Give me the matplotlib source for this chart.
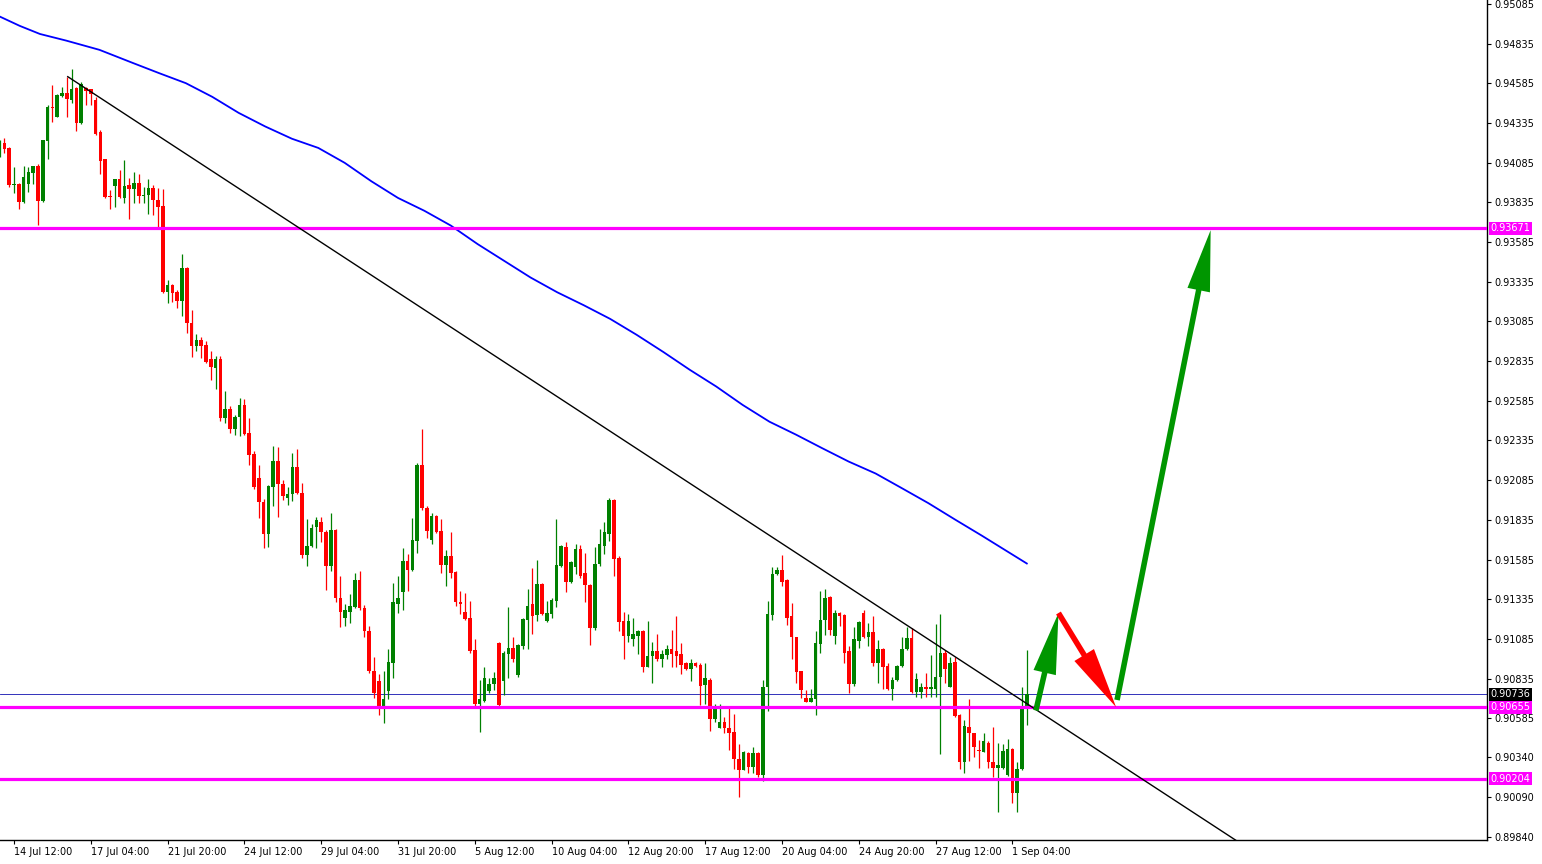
import numpy as np
import pandas as pd
import matplotlib
matplotlib.use("Agg")
import matplotlib.pyplot as plt
import matplotlib.transforms as mtransforms

# USDCHF H4, 14 Jul 2020 00:00 .. 1 Sep 2020 16:00 (215 bars)
opens = [0.94140, 0.94211, 0.94180, 0.93945, 0.93951, 0.93835, 0.93951, 0.94022, 0.94064, 0.93846,
         0.94224, 0.94436, 0.94375, 0.94507, 0.94524, 0.94482, 0.94556, 0.94337, 0.94556, 0.94547,
         0.94480, 0.94280, 0.94106, 0.93874, 0.93938, 0.93982, 0.93865, 0.93943, 0.93917, 0.93957,
         0.93876, 0.93883, 0.93928, 0.93850, 0.93814, 0.93272, 0.93315, 0.93272, 0.93216, 0.93422,
         0.93073, 0.92930, 0.92968, 0.92937, 0.92848, 0.92794, 0.92848, 0.92477, 0.92533, 0.92407,
         0.92483, 0.92559, 0.92383, 0.92252, 0.92099, 0.91949, 0.91748, 0.92044, 0.92206, 0.92063,
         0.91975, 0.91998, 0.92168, 0.92006, 0.91615, 0.91672, 0.91788, 0.91821, 0.91760, 0.91546,
         0.91771, 0.91345, 0.91217, 0.91254, 0.91286, 0.91456, 0.91280, 0.91137, 0.90885, 0.90822,
         0.90645, 0.90759, 0.90935, 0.91307, 0.91382, 0.91578, 0.91521, 0.91704, 0.92182, 0.91911,
         0.91710, 0.91859, 0.91765, 0.91552, 0.91609, 0.91508, 0.91319, 0.91254, 0.91217, 0.91017,
         0.90677, 0.90696, 0.90759, 0.90803, 0.91060, 0.90822, 0.90990, 0.91028, 0.90858, 0.91042,
         0.91204, 0.91305, 0.91236, 0.91431, 0.91198, 0.91242, 0.91324, 0.91544, 0.91664, 0.91443,
         0.91538, 0.91651, 0.91500, 0.91425, 0.91154, 0.91557, 0.91670, 0.91746, 0.91960, 0.91595,
         0.91198, 0.91103, 0.91084, 0.91103, 0.91135, 0.90908, 0.90977, 0.91009, 0.90958, 0.90984,
         0.91021, 0.91010, 0.90990, 0.90933, 0.90897, 0.90933, 0.90922, 0.90796, 0.90826, 0.90578,
         0.90522, 0.90563, 0.90522, 0.90498, 0.90330, 0.90261, 0.90368, 0.90280, 0.90368, 0.90229,
         0.90784, 0.91236, 0.91494, 0.91519, 0.91456, 0.91229, 0.91097, 0.90883, 0.90715, 0.90687,
         0.90708, 0.91053, 0.91204, 0.91349, 0.91103, 0.91250, 0.91236, 0.91011, 0.90799, 0.91070,
         0.91250, 0.91099, 0.91130, 0.90935, 0.91023, 0.90914, 0.90767, 0.90826, 0.90914, 0.91019,
         0.91089, 0.90752, 0.90752, 0.90784, 0.90767, 0.90767, 0.90847, 0.90998, 0.90784, 0.90941,
         0.90605, 0.90311, 0.90532, 0.90490, 0.90385, 0.90374, 0.90431, 0.90308, 0.90274, 0.90270,
         0.90227, 0.90391, 0.90112, 0.90265, 0.90648]
highs = [0.94230, 0.94239, 0.94185, 0.94060, 0.93955, 0.94064, 0.94060, 0.94065, 0.94077, 0.94230,
         0.94449, 0.94575, 0.94515, 0.94564, 0.94627, 0.94673, 0.94560, 0.94595, 0.94564, 0.94550,
         0.94500, 0.94290, 0.94110, 0.93913, 0.93985, 0.94039, 0.94104, 0.93987, 0.94028, 0.94012,
         0.93934, 0.93982, 0.93943, 0.93926, 0.93919, 0.93346, 0.93320, 0.93280, 0.93510, 0.93430,
         0.93157, 0.93006, 0.92987, 0.92962, 0.92899, 0.92867, 0.92869, 0.92647, 0.92552, 0.92496,
         0.92603, 0.92596, 0.92477, 0.92271, 0.92181, 0.91965, 0.92055, 0.92300, 0.92294, 0.92086,
         0.92042, 0.92256, 0.92281, 0.92067, 0.91842, 0.91809, 0.91855, 0.91855, 0.91770, 0.91878,
         0.91780, 0.91481, 0.91307, 0.91368, 0.91500, 0.91513, 0.91301, 0.91166, 0.90973, 0.90866,
         0.90885, 0.91023, 0.91439, 0.91483, 0.91660, 0.91622, 0.91849, 0.92195, 0.92407, 0.91925,
         0.91878, 0.91865, 0.91840, 0.91647, 0.91758, 0.91515, 0.91387, 0.91374, 0.91324, 0.91086,
         0.90828, 0.90910, 0.90841, 0.90878, 0.91065, 0.91011, 0.91286, 0.91097, 0.91050, 0.91215,
         0.91399, 0.91532, 0.91582, 0.91440, 0.91324, 0.91343, 0.91840, 0.91675, 0.91695, 0.91575,
         0.91683, 0.91677, 0.91626, 0.91430, 0.91664, 0.91777, 0.91821, 0.91973, 0.91966, 0.91607,
         0.91254, 0.91242, 0.91217, 0.91141, 0.91141, 0.91198, 0.91065, 0.91116, 0.91015, 0.91047,
         0.91141, 0.91229, 0.91057, 0.90940, 0.90958, 0.90940, 0.90933, 0.90933, 0.90839, 0.90675,
         0.90675, 0.90591, 0.90648, 0.90612, 0.90423, 0.90381, 0.90374, 0.90406, 0.90375, 0.90826,
         0.91324, 0.91540, 0.91540, 0.91614, 0.91460, 0.91313, 0.91100, 0.90885, 0.90763, 0.90769,
         0.91135, 0.91387, 0.91399, 0.91355, 0.91267, 0.91255, 0.91240, 0.91040, 0.91158, 0.91195,
         0.91267, 0.91183, 0.91231, 0.91078, 0.91030, 0.90935, 0.90843, 0.90920, 0.91099, 0.91162,
         0.91155, 0.90872, 0.90809, 0.90870, 0.90984, 0.91179, 0.91242, 0.91015, 0.90969, 0.90973,
         0.90610, 0.90574, 0.90706, 0.90495, 0.90448, 0.90490, 0.90440, 0.90532, 0.90431, 0.90423,
         0.90454, 0.90395, 0.90311, 0.90780, 0.91015]
lows = [0.94120, 0.94144, 0.93930, 0.93892, 0.93793, 0.93829, 0.93902, 0.93951, 0.93693, 0.93840,
        0.94106, 0.94343, 0.94370, 0.94500, 0.94375, 0.94463, 0.94287, 0.94330, 0.94449, 0.94449,
        0.94260, 0.94014, 0.93865, 0.93793, 0.93808, 0.93860, 0.93833, 0.93730, 0.93833, 0.93833,
        0.93833, 0.93764, 0.93756, 0.93667, 0.93267, 0.93203, 0.93209, 0.93172, 0.93119, 0.93014,
        0.92863, 0.92901, 0.92857, 0.92821, 0.92716, 0.92659, 0.92458, 0.92447, 0.92384, 0.92370,
        0.92363, 0.92370, 0.92182, 0.92031, 0.91849, 0.91660, 0.91666, 0.91924, 0.91855, 0.91962,
        0.91930, 0.91956, 0.92000, 0.91597, 0.91546, 0.91665, 0.91660, 0.91697, 0.91395, 0.91515,
        0.91319, 0.91162, 0.91169, 0.91188, 0.91280, 0.91267, 0.91099, 0.90872, 0.90715, 0.90607,
        0.90557, 0.90708, 0.90841, 0.91250, 0.91269, 0.91389, 0.91515, 0.91628, 0.91899, 0.91722,
        0.91685, 0.91750, 0.91502, 0.91420, 0.91470, 0.91294, 0.91244, 0.91206, 0.90998, 0.90664,
        0.90500, 0.90690, 0.90746, 0.90765, 0.90665, 0.90732, 0.90841, 0.90939, 0.90845, 0.91021,
        0.91021, 0.91116, 0.91198, 0.91235, 0.91192, 0.91217, 0.91286, 0.91540, 0.91380, 0.91440,
        0.91494, 0.91469, 0.91317, 0.91047, 0.91141, 0.91544, 0.91620, 0.91702, 0.91481, 0.91135,
        0.90958, 0.91065, 0.91040, 0.90990, 0.90876, 0.90908, 0.90807, 0.90946, 0.90908, 0.90958,
        0.90910, 0.90910, 0.90866, 0.90890, 0.90822, 0.90910, 0.90668, 0.90675, 0.90507, 0.90563,
        0.90522, 0.90490, 0.90385, 0.90267, 0.90091, 0.90261, 0.90242, 0.90242, 0.90217, 0.90192,
        0.90633, 0.91204, 0.91488, 0.91418, 0.91173, 0.90958, 0.90805, 0.90711, 0.90687, 0.90687,
        0.90607, 0.90996, 0.91110, 0.91108, 0.91053, 0.91168, 0.90935, 0.90746, 0.90790, 0.91030,
        0.91090, 0.91042, 0.90914, 0.90809, 0.90771, 0.90760, 0.90700, 0.90820, 0.90910, 0.91015,
        0.90745, 0.90721, 0.90715, 0.90721, 0.90721, 0.90721, 0.90358, 0.90809, 0.90780, 0.90590,
        0.90267, 0.90238, 0.90316, 0.90343, 0.90270, 0.90370, 0.90274, 0.90217, 0.89993, 0.90265,
        0.90220, 0.90053, 0.89993, 0.90260, 0.90543]
closes = [0.94211, 0.94169, 0.93943, 0.93951, 0.93839, 0.93995, 0.94026, 0.94062, 0.93846, 0.94228,
          0.94436, 0.94432, 0.94512, 0.94524, 0.94486, 0.94547, 0.94337, 0.94579, 0.94539, 0.94516,
          0.94266, 0.94098, 0.93871, 0.93870, 0.93982, 0.93867, 0.93940, 0.93917, 0.93957, 0.93875,
          0.93880, 0.93926, 0.93848, 0.93808, 0.93272, 0.93315, 0.93266, 0.93216, 0.93422, 0.93073,
          0.92930, 0.92968, 0.92930, 0.92828, 0.92800, 0.92848, 0.92477, 0.92533, 0.92407, 0.92483,
          0.92559, 0.92376, 0.92245, 0.92044, 0.91949, 0.91748, 0.92048, 0.92206, 0.92063, 0.91987,
          0.91998, 0.92168, 0.92006, 0.91615, 0.91672, 0.91784, 0.91836, 0.91760, 0.91546, 0.91771,
          0.91345, 0.91254, 0.91267, 0.91292, 0.91456, 0.91280, 0.91137, 0.90885, 0.90746, 0.90645,
          0.90708, 0.90941, 0.91319, 0.91345, 0.91578, 0.91521, 0.91710, 0.92182, 0.91911, 0.91765,
          0.91859, 0.91760, 0.91552, 0.91609, 0.91502, 0.91319, 0.91307, 0.91212, 0.91011, 0.90677,
          0.90708, 0.90841, 0.90803, 0.90841, 0.90670, 0.90996, 0.91028, 0.90958, 0.91047, 0.91210,
          0.91292, 0.91229, 0.91431, 0.91242, 0.91248, 0.91330, 0.91551, 0.91670, 0.91443, 0.91569,
          0.91651, 0.91481, 0.91425, 0.91154, 0.91557, 0.91683, 0.91758, 0.91960, 0.91588, 0.91192,
          0.91103, 0.91198, 0.91116, 0.91135, 0.90908, 0.90977, 0.91009, 0.90958, 0.90990, 0.91021,
          0.90992, 0.90980, 0.90922, 0.90897, 0.90933, 0.90916, 0.90790, 0.90839, 0.90578, 0.90641,
          0.90563, 0.90522, 0.90494, 0.90330, 0.90261, 0.90374, 0.90280, 0.90368, 0.90229, 0.90784,
          0.91242, 0.91494, 0.91519, 0.91443, 0.91217, 0.91097, 0.90876, 0.90763, 0.90687, 0.90715,
          0.91059, 0.91204, 0.91343, 0.91141, 0.91248, 0.91229, 0.90998, 0.90799, 0.91082, 0.91193,
          0.91099, 0.91130, 0.90935, 0.91023, 0.90910, 0.90767, 0.90826, 0.90914, 0.91019, 0.91089,
          0.90752, 0.90830, 0.90784, 0.90767, 0.90784, 0.90847, 0.90998, 0.90897, 0.90935, 0.90599,
          0.90311, 0.90538, 0.90490, 0.90406, 0.90378, 0.90442, 0.90308, 0.90274, 0.90291, 0.90379,
          0.90391, 0.90112, 0.90265, 0.90648, 0.90736]

# moving average (blue line)
ma_idx = [0.08, 4.2, 8.4, 13.9, 20.8, 27.7, 33.25, 38.8, 44.3, 49.8, 55.35, 60.9, 66.4,
          71.9, 77.45, 83.0, 88.5, 94.0, 99.6, 105.1, 110.6, 116.15, 121.7, 127.2,
          132.7, 138.3, 143.8, 149.3, 154.8, 160.4, 165.9, 171.4, 176.9, 182.5,
          188.0, 193.5, 199.1, 204.6, 210.1, 214.0]
ma_val = [0.95005, 0.94947, 0.94896, 0.94854, 0.94796, 0.94714, 0.94649, 0.94586,
          0.94500, 0.94399, 0.94313, 0.94236, 0.94178, 0.94084, 0.93968, 0.93863,
          0.93782, 0.93689, 0.93572, 0.93467, 0.93362, 0.93269, 0.93187, 0.93101,
          0.93001, 0.92892, 0.92780, 0.92675, 0.92559, 0.92453, 0.92372, 0.92286,
          0.92202, 0.92127, 0.92034, 0.91940, 0.91836, 0.91736, 0.91633, 0.91560]

levels = [0.93671, 0.90655, 0.90204]
bid = 0.90736
trend = [(14.2, 0.94627), (265.0, 0.89669)]
arrows = [((215.9, 0.90634), (220.6, 0.91248), '#009600'),
          ((220.6, 0.91248), (232.6, 0.90655), '#ff0000'),
          ((232.8, 0.90700), (252.3, 0.93660), '#009600')]

yticks = [0.95085, 0.94835, 0.94585, 0.94335, 0.94085, 0.93835, 0.93585, 0.93335,
          0.93085, 0.92835, 0.92585, 0.92335, 0.92085, 0.91835, 0.91585, 0.91335,
          0.91085, 0.90835, 0.90585, 0.90340, 0.90090, 0.89840]

days = pd.bdate_range('2020-07-14', '2020-09-01')
times = [d + pd.Timedelta(hours=h) for d in days for h in range(0, 24, 4)][:len(opens)]
xtick_idx = list(range(3, len(times), 16))
xtick_lab = [f"{times[i].day} {times[i].strftime('%b %H:%M')}" for i in xtick_idx]

o = np.array(opens); h = np.array(highs); l = np.array(lows); c = np.array(closes)
x = np.arange(len(o))
up = c >= o
col = np.where(up, '#008000', '#ff0000')

fig = plt.figure(figsize=(15.42, 8.64), dpi=100)
ax = fig.add_axes([0, 24/864, 1487/1542, 840/864])

ax.vlines(x, l, h, colors=col, linewidth=0.9, zorder=2)
ax.bar(x, np.maximum(np.abs(c - o), 0.00002), bottom=np.minimum(o, c), width=0.74,
       color=col, linewidth=0, zorder=3)

ax.plot(ma_idx, ma_val, color='#0000ff', lw=1.3, zorder=4, solid_joinstyle='round')
ax.axhline(bid, color='#1010b0', lw=0.6, zorder=1)
for lv in levels:
    ax.axhline(lv, color='#ff00ff', lw=2.3, zorder=5)
ax.plot([trend[0][0], trend[1][0]], [trend[0][1], trend[1][1]], color='black', lw=1.0, zorder=6)

for tail, tip, colr in arrows:
    ax.annotate('', xy=tip, xytext=tail, zorder=7,
                arrowprops=dict(arrowstyle='simple,head_length=44,head_width=16.5,tail_width=4.0',
                                mutation_scale=1, color=colr, lw=0, shrinkA=0, shrinkB=0))

ax.set_xlim(0.083, 309.875)
ax.set_ylim(0.89818, 0.95110)

ax.yaxis.tick_right()
ax.set_yticks(yticks)
ax.set_yticklabels([f"{v:.5f}" for v in yticks])
ax.set_xticks(xtick_idx)
ax.set_xticklabels(xtick_lab, ha='left')
ax.tick_params(axis='y', length=3, width=0.8, pad=2, labelsize=7)
ax.tick_params(axis='x', length=3, width=0.8, pad=2, labelsize=7)

for s in ['left', 'top']:
    ax.spines[s].set_visible(False)
for s in ['right', 'bottom']:
    ax.spines[s].set_linewidth(1.0)

tr = mtransforms.blended_transform_factory(ax.transAxes, ax.transData)
for lv in levels:
    ax.text(1.0025, lv, f"{lv:.5f}", transform=tr, va='center', ha='left', fontsize=7,
            color='white', zorder=10,
            bbox=dict(boxstyle='square,pad=0.15', fc='#ff00ff', ec='none'))
ax.text(1.0025, bid, f"{bid:.5f}", transform=tr, va='center', ha='left', fontsize=7,
        color='white', zorder=10, bbox=dict(boxstyle='square,pad=0.15', fc='black', ec='none'))

fig.savefig('out.png', dpi=100)
